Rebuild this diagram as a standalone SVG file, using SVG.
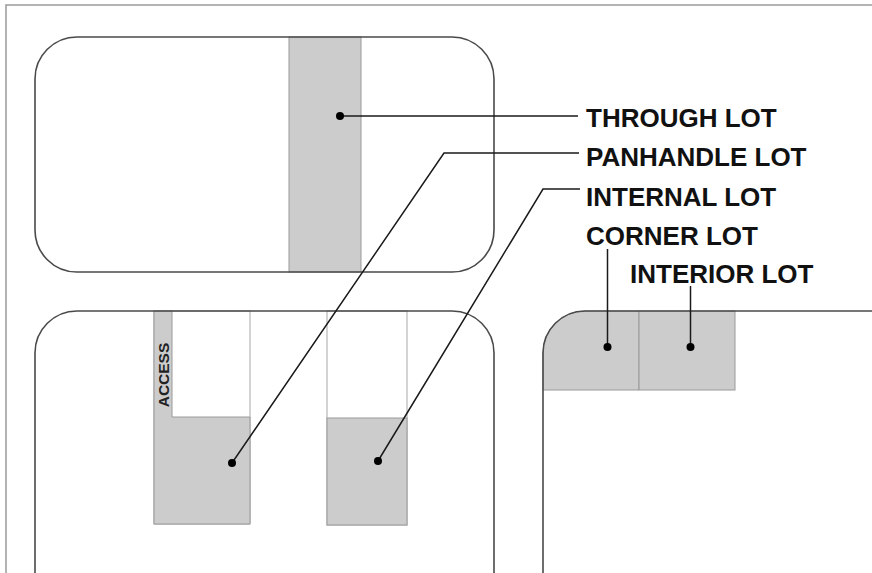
<svg xmlns="http://www.w3.org/2000/svg" width="872" height="573" viewBox="0 0 872 573">
<style>
.block{fill:none;stroke:#4a4a4a;stroke-width:1.6}
.lot{fill:#cccccc;stroke:#9a9a9a;stroke-width:1}
.lotw{fill:#fff;stroke:#a8a8a8;stroke-width:1}
.lead{fill:none;stroke:#1a1a1a;stroke-width:1.5}
.dot{fill:#000}
.lbl{font-family:"Liberation Sans",Arial,sans-serif;font-weight:bold;font-size:26px;fill:#111}
.acc{font-family:"Liberation Sans",Arial,sans-serif;font-weight:bold;font-size:15.5px;fill:#222}
</style>
<rect width="872" height="573" fill="#fff"/>
<path d="M6,573 V5 H872" fill="none" stroke="#9a9a9a" stroke-width="1.5"/>
<g id="top-block">
<rect x="289" y="37" width="72" height="235" class="lot"/>
<rect x="35" y="37" width="459" height="235" rx="42" class="block"/>
</g>
<g id="panhandle-lot">
<rect x="154" y="311" width="96" height="213" class="lotw"/>
<path d="M154,311 H172 V417 H250 V524 H154 Z" class="lot"/>
<text class="acc" transform="translate(168.8,375) rotate(-90)" text-anchor="middle">ACCESS</text>
</g>
<g id="internal-lot">
<rect x="327" y="311" width="80" height="214" class="lotw"/>
<rect x="327" y="418" width="80" height="107" class="lot"/>
</g>
<g id="bottom-left-block">
<path d="M35,573 V353 A42,42 0 0 1 77,311 H452 A42,42 0 0 1 494,353 V573" class="block"/>
</g>
<g id="corner-lot">
<path d="M543,390 V353 A42,42 0 0 1 585,311 H639 V390 Z" class="lot"/>
</g>
<g id="interior-lot">
<rect x="639" y="311" width="96" height="79" class="lot"/>
</g>
<g id="right-block">
<path d="M543,573 V353 A42,42 0 0 1 585,311 H872" class="block"/>
</g>
<g id="connectors">
<path d="M340,116 H578" class="lead"/>
<path d="M232,463 L444,153 H579" class="lead"/>
<path d="M378,461 L543,189 H580" class="lead"/>
<path d="M607.5,347 V249" class="lead"/>
<path d="M690.5,347 V286" class="lead"/>
<circle cx="340" cy="116" r="4" class="dot"/>
<circle cx="232" cy="463" r="4" class="dot"/>
<circle cx="378" cy="461" r="4" class="dot"/>
<circle cx="607.5" cy="347" r="4" class="dot"/>
<circle cx="690.5" cy="347" r="4" class="dot"/>
</g>
<g id="labels">
<text class="lbl" x="586" y="127">THROUGH LOT</text>
<text class="lbl" x="586" y="166">PANHANDLE LOT</text>
<text class="lbl" x="586" y="205.5">INTERNAL LOT</text>
<text class="lbl" x="586" y="245">CORNER LOT</text>
<text class="lbl" x="630" y="283">INTERIOR LOT</text>
</g>
</svg>
